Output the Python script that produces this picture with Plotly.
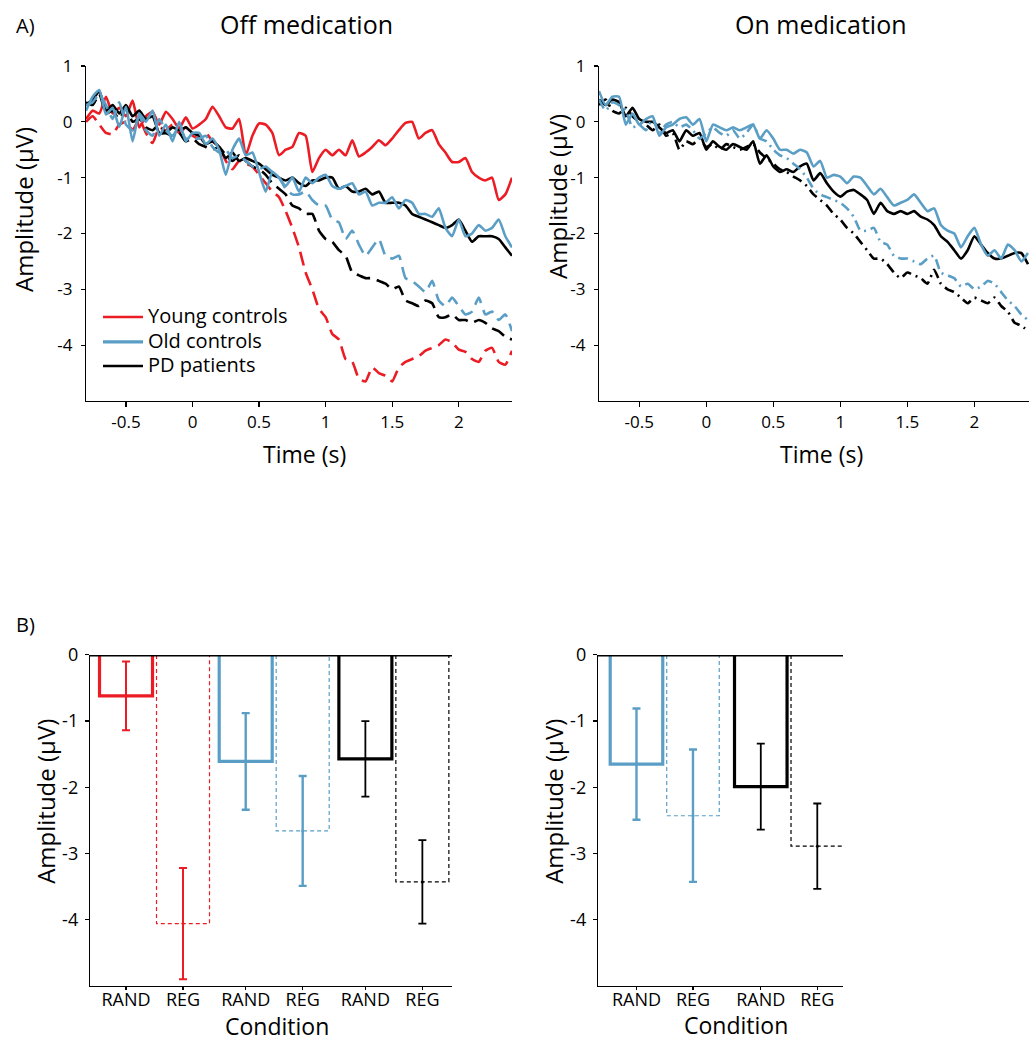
import numpy as np
import plotly.graph_objects as go

FW, FH = 1029, 1042
# measured mapping of the photographed page: rendered_y = VS * page_y + VOFF
VS, VOFF = 0.9877, 13.0

# ---------------- DATA ----------------
time_s = np.round(np.arange(-0.8, 2.4001, 0.05), 2).tolist()

off_young_rand = [0.05, 0.2, 0.15, 0.45, 0.15, 0.25, 0.1, 0.38, -0.1, 0.1,
                  0.18, -0.05, 0.18, 0.05, -0.12, 0.08, -0.12, -0.05, 0.05, 0.27,
                  0.1, -0.1, -0.12, 0.05, -0.6, -0.25, -0.03, -0.05, -0.2, -0.6,
                  -0.5, -0.45, -0.2, -0.25, -0.9, -0.65, -0.5, -0.6, -0.5, -0.6,
                  -0.33, -0.62, -0.55, -0.45, -0.33, -0.42, -0.3, -0.15, -0.02, 0.0,
                  -0.3, -0.2, -0.15, -0.4, -0.55, -0.72, -0.72, -0.65, -0.9, -1.0,
                  -1.05, -1.0, -1.4, -1.3, -1.0]
off_young_reg = [0.0, 0.1, -0.05, -0.2, -0.22, -0.05, 0.0, -0.15, 0.05, -0.2,
                 -0.38, -0.1, -0.15, -0.05, -0.2, -0.1, -0.25, -0.3, -0.2, -0.35,
                 -0.45, -0.7, -0.85, -0.7, -0.75, -0.8, -0.95, -1.1, -1.25, -1.35,
                 -1.6, -1.9, -2.25, -2.7, -3.0, -3.35, -3.5, -3.8, -3.9, -4.25,
                 -4.3, -4.6, -4.65, -4.4, -4.5, -4.55, -4.65, -4.4, -4.3, -4.25,
                 -4.2, -4.1, -4.05, -4.0, -3.9, -3.95, -4.08, -4.12, -4.25, -4.3,
                 -4.1, -4.05, -4.3, -4.35, -4.1]
off_old_rand = [0.2, 0.45, 0.57, 0.13, 0.25, -0.09, 0.27, -0.35, 0.15, 0.0,
                0.2, -0.25, -0.05, -0.35, 0.0, -0.35, -0.2, -0.2, -0.4, -0.3,
                -0.5, -0.95, -0.5, -0.3, -0.6, -0.55, -0.9, -1.25, -0.9, -1.0,
                -1.15, -1.0, -1.25, -1.0, -1.1, -1.0, -0.95, -1.15, -1.2, -1.15,
                -1.1, -1.3, -1.25, -1.5, -1.45, -1.45, -1.35, -1.55, -1.4, -1.45,
                -1.65, -1.65, -1.7, -1.55, -1.9, -2.05, -1.75, -2.05, -2.0, -1.85,
                -1.95, -1.9, -1.75, -2.05, -2.25]
off_old_reg = [0.3, 0.35, 0.5, 0.3, 0.05, 0.35, -0.05, -0.15, 0.1, -0.15,
               -0.25, 0.05, -0.15, -0.25, -0.1, -0.3, -0.3, -0.3, -0.25, -0.45,
               -0.55, -0.5, -0.65, -0.6, -0.7, -0.8, -0.85, -0.8, -0.9, -1.0,
               -1.2, -1.3, -1.3, -1.25, -1.4, -1.5, -1.5, -1.75, -1.8, -2.1,
               -1.95, -2.2, -2.4, -2.25, -2.1, -2.4, -2.45, -2.4, -2.8, -2.85,
               -2.95, -3.05, -2.85, -3.2, -3.3, -3.15, -3.3, -3.45, -3.4, -3.15,
               -3.45, -3.4, -3.55, -3.45, -3.75]
off_pd_rand = [0.3, 0.4, 0.55, 0.2, 0.3, 0.15, 0.3, 0.1, 0.2, 0.05,
               0.1, -0.2, -0.2, -0.1, -0.15, -0.1, -0.2, -0.25, -0.4, -0.35,
               -0.45, -0.65, -0.55, -0.7, -0.65, -0.7, -0.75, -0.85, -0.95, -1.0,
               -1.05, -1.0, -1.1, -1.15, -1.05, -1.05, -1.0, -1.0, -1.2, -1.15,
               -1.25, -1.25, -1.2, -1.3, -1.25, -1.45, -1.45, -1.45, -1.5, -1.65,
               -1.7, -1.75, -1.8, -1.85, -1.9, -1.85, -1.75, -1.95, -2.15, -2.05,
               -2.05, -2.05, -2.1, -2.25, -2.4]
off_pd_reg = [0.35, 0.3, 0.5, 0.15, 0.2, 0.05, 0.25, 0.0, 0.05, -0.1,
              -0.15, -0.05, -0.2, -0.25, -0.2, -0.35, -0.3, -0.4, -0.45, -0.5,
              -0.45, -0.6, -0.7, -0.6, -0.7, -0.8, -0.85, -0.95, -1.1, -1.2,
              -1.3, -1.5, -1.55, -1.65, -1.65, -1.95, -2.1, -2.15, -2.3, -2.4,
              -2.7, -2.75, -2.8, -2.8, -2.85, -2.9, -3.0, -2.95, -3.2, -3.25,
              -3.3, -3.2, -3.25, -3.5, -3.5, -3.45, -3.55, -3.55, -3.6, -3.55,
              -3.6, -3.7, -3.75, -3.85, -3.9]

on_old_rand = [0.55, 0.3, 0.45, 0.45, -0.05, 0.15, -0.05, 0.05, 0.1, -0.25,
               -0.1, -0.05, 0.05, 0.08, -0.05, 0.05, -0.35, -0.05, -0.1, -0.15,
               -0.1, -0.15, -0.1, -0.05, -0.3, -0.15, -0.3, -0.5, -0.5, -0.57,
               -0.5, -0.55, -0.8, -0.7, -1.0, -0.95, -0.98, -1.1, -0.98, -1.0,
               -1.15, -1.3, -1.2, -1.35, -1.5, -1.45, -1.4, -1.3, -1.45, -1.6,
               -1.55, -1.85, -1.95, -2.0, -2.25, -2.05, -1.9, -2.2, -2.4, -2.3,
               -2.45, -2.2, -2.3, -2.5, -2.35]
on_old_reg = [0.4, 0.2, 0.35, 0.3, 0.2, -0.1, -0.05, -0.15, 0.05, -0.2,
              -0.05, 0.0, -0.1, -0.05, -0.15, -0.3, -0.2, -0.1, -0.2, -0.25,
              -0.15, -0.3, -0.2, -0.05, -0.3, -0.35, -0.5, -0.6, -0.65, -0.75,
              -0.85, -1.0, -1.2, -1.3, -1.35, -1.4, -1.45, -1.55, -1.7, -1.95,
              -1.95, -1.9, -2.15, -2.2, -2.4, -2.45, -2.45, -2.5, -2.55, -2.45,
              -2.4, -2.7, -2.75, -2.8, -2.95, -2.9, -3.0, -2.95, -2.85, -2.9,
              -3.05, -3.2, -3.3, -3.45, -3.55]
on_pd_rand = [0.4, 0.3, 0.4, 0.35, 0.1, 0.25, 0.05, 0.0, 0.0, -0.1,
              -0.2, -0.15, -0.35, -0.15, -0.25, -0.2, -0.5, -0.35, -0.45, -0.5,
              -0.4, -0.45, -0.5, -0.35, -0.75, -0.6, -0.8, -0.9, -0.85, -0.9,
              -0.8, -0.75, -1.05, -0.92, -1.1, -1.25, -1.34, -1.25, -1.22, -1.3,
              -1.4, -1.65, -1.45, -1.6, -1.65, -1.6, -1.65, -1.6, -1.7, -1.75,
              -1.85, -2.05, -2.15, -2.3, -2.45, -2.3, -2.05, -2.2, -2.35, -2.45,
              -2.45, -2.4, -2.35, -2.35, -2.55]
on_pd_reg = [0.3, 0.4, 0.2, 0.15, 0.25, 0.1, 0.0, -0.05, -0.15, -0.05,
             -0.25, -0.2, -0.5, -0.35, -0.4, -0.3, -0.45, -0.4, -0.5, -0.4,
             -0.45, -0.5, -0.45, -0.4, -0.55, -0.65, -0.75, -0.85, -0.9, -0.98,
             -1.05, -1.15, -1.3, -1.4, -1.5, -1.65, -1.75, -1.9, -2.0, -2.15,
             -2.3, -2.45, -2.45, -2.55, -2.7, -2.8, -2.7, -2.75, -2.8, -2.9,
             -2.65, -2.9, -3.0, -3.05, -3.15, -3.25, -3.15, -3.2, -3.25, -3.15,
             -3.3, -3.4, -3.6, -3.65, -3.75]

bar_labels_off = ["RAND", "REG", "RAND", "REG", "RAND", "REG"]
bar_means_off = [-0.62, -4.06, -1.61, -2.66, -1.57, -3.43]
bar_sem_off = [0.52, 0.84, 0.73, 0.83, 0.57, 0.63]
bar_labels_on = ["RAND", "REG", "RAND", "REG"]
bar_means_on = [-1.65, -2.43, -1.99, -2.89]
bar_sem_on = [0.84, 1.0, 0.65, 0.645]

legend_names = ["Young controls", "Old controls", "PD patients"]

# ---------------- STYLE ----------------
RED = "#ec1c24"
BLUE = "#5a9ec6"
BLACK = "#000000"
FONT = "Open Sans"

pos_off = [1, 2, 3.1, 4.1, 5.2, 6.2]
col_off = [RED, RED, BLUE, BLUE, BLACK, BLACK]
pos_on = [1, 2, 3.2, 4.2]
col_on = [BLUE, BLUE, BLACK, BLACK]
bar_w = 0.93


def fx(p):  # target pixel x -> paper
    return p / FW


def fy(p):  # target pixel y -> paper (compensating the photo mapping)
    return 1 - ((p - VOFF) / VS) / FH


fig = go.Figure()

LW = 2.6
SM = 0.5
# ---- top-left: off medication ----
for y, c, dash in [(off_young_rand, RED, "solid"), (off_young_reg, RED, "14px,7px"),
                   (off_pd_rand, BLACK, "solid"), (off_pd_reg, BLACK, "14px,7px"),
                   (off_old_rand, BLUE, "solid"), (off_old_reg, BLUE, "14px,7px")]:
    fig.add_trace(go.Scatter(x=time_s, y=y, mode="lines", xaxis="x", yaxis="y",
                             line=dict(color=c, width=LW, dash=dash, shape="spline", smoothing=SM),
                             showlegend=False, hoverinfo="skip"))

# ---- top-right: on medication ----
for y, c, dash in [(on_pd_rand, BLACK, "solid"), (on_pd_reg, BLACK, "10px,5px,2px,5px"),
                   (on_old_rand, BLUE, "solid"), (on_old_reg, BLUE, "10px,5px,2px,5px")]:
    fig.add_trace(go.Scatter(x=time_s, y=y, mode="lines", xaxis="x2", yaxis="y2",
                             line=dict(color=c, width=LW, dash=dash, shape="spline", smoothing=SM),
                             showlegend=False, hoverinfo="skip"))


# ---- bars ----
def add_bars(pos, means, sems, cols, xa, ya, xr):
    for i, (p, m, c) in enumerate(zip(pos, means, cols)):
        reg = (i % 2 == 1)
        fig.add_trace(go.Scatter(
            x=[p - bar_w / 2, p - bar_w / 2, p + bar_w / 2, p + bar_w / 2],
            y=[0, m, m, 0], mode="lines", xaxis=xa, yaxis=ya,
            line=dict(color=c, width=1.2 if reg else 3.2, dash="4px,3px" if reg else "solid"),
            showlegend=False, hoverinfo="skip"))
    for p, m, s, c in zip(pos, means, sems, cols):
        fig.add_trace(go.Scatter(
            x=[p], y=[m], mode="markers", xaxis=xa, yaxis=ya,
            marker=dict(size=3, color=c),
            error_y=dict(type="data", array=[s], color=c,
                         thickness=2.4 if c == BLUE else (2.0 if c == RED else 1.8), width=4),
            showlegend=False, hoverinfo="skip"))
    fig.add_trace(go.Scatter(x=xr, y=[0, 0], mode="lines", xaxis=xa, yaxis=ya,
                             line=dict(color=BLACK, width=3), showlegend=False, hoverinfo="skip"))


xr3 = [0.368, 6.72]
xr4 = [0.319, 4.655]
add_bars(pos_off, bar_means_off, bar_sem_off, col_off, "x3", "y3", xr3)
add_bars(pos_on, bar_means_on, bar_sem_on, col_on, "x4", "y4", xr4)

# ---------------- AXES ----------------
axis_common = dict(showline=True, linecolor=BLACK, linewidth=1.2, ticks="outside",
                   tickwidth=1.2, tickcolor=BLACK, showgrid=False,
                   zeroline=False, fixedrange=True)
t_tickvals = [-0.5, 0, 0.5, 1, 1.5, 2]
t_ticktext = ["-0.5", "0", "0.5", "1", "1.5", "2"]
top_yvals = [1, 0, -1, -2, -3, -4]
top_ytext = ["1", "0", "-1", "-2", "-3", "-4"]
bot_yvals = [0, -1, -2, -3, -4]
bot_ytext = ["0", "-1", "-2", "-3", "-4"]
tickfont_top = dict(family=FONT, size=17, color=BLACK)
tickfont_bot = dict(family=FONT, size=18, color=BLACK)

top_dom_y = [fy(401), fy(66)]
bot_dom_y = [fy(986), fy(655)]

unit_r = (1028 - 599) / 3.2
x2_range = [-0.8, -0.8 + (1029 - 599) / unit_r]

fig.update_layout(
    xaxis=dict(axis_common, domain=[fx(86), fx(512)], range=[-0.8, 2.4], anchor="y",
               tickvals=t_tickvals, ticktext=t_ticktext, tickfont=tickfont_top, ticklen=5),
    yaxis=dict(axis_common, domain=top_dom_y, range=[-5, 1], anchor="x", ticklen=4,
               tickvals=top_yvals, ticktext=top_ytext, tickfont=tickfont_top,
               ticklabelstandoff=5),
    xaxis2=dict(axis_common, domain=[fx(599), 1.0], range=x2_range, anchor="y2",
                tickvals=t_tickvals, ticktext=t_ticktext, tickfont=tickfont_top, ticklen=5),
    yaxis2=dict(axis_common, domain=top_dom_y, range=[-5, 1], anchor="x2", ticklen=4,
                tickvals=top_yvals, ticktext=top_ytext, tickfont=tickfont_top,
                ticklabelstandoff=5),
    xaxis3=dict(axis_common, domain=[fx(90), fx(452)], range=xr3, anchor="y3", ticklen=3,
                tickvals=pos_off, ticktext=bar_labels_off, tickfont=tickfont_bot,
                ticklabelstandoff=-6),
    yaxis3=dict(axis_common, domain=bot_dom_y, range=[-5, 0], anchor="x3", ticklen=4,
                tickvals=bot_yvals, ticktext=bot_ytext, tickfont=tickfont_bot,
                ticklabelstandoff=3),
    xaxis4=dict(axis_common, domain=[fx(598), fx(843)], range=xr4, anchor="y4", ticklen=3,
                tickvals=pos_on, ticktext=bar_labels_on, tickfont=tickfont_bot,
                ticklabelstandoff=-6),
    yaxis4=dict(axis_common, domain=bot_dom_y, range=[-5, 0], anchor="x4", ticklen=4,
                tickvals=bot_yvals, ticktext=bot_ytext, tickfont=tickfont_bot,
                ticklabelstandoff=3),
)

# ---------------- TEXT ----------------
ann = []


def text(s, x, y, size, angle=0, xanchor="center"):
    ann.append(dict(text=s, x=fx(x), y=fy(y), xref="paper", yref="paper",
                    showarrow=False, textangle=angle, xanchor=xanchor, yanchor="middle",
                    font=dict(family=FONT, size=size, color=BLACK)))


text("A)", 14, 26, 20, xanchor="left")
text("B)", 14, 625, 20, xanchor="left")
text("Off medication", 306, 24, 25)
text("On medication", 821, 24, 25)
text("Time (s)", 304, 454, 23)
text("Time (s)", 821, 454, 23)
text("Amplitude (µV)", 24, 210, 24, angle=-90)
text("Amplitude (µV)", 558, 197, 24, angle=-90)
text("Amplitude (µV)", 46, 802, 24, angle=-90)
text("Amplitude (µV)", 554, 802, 24, angle=-90)
text("Condition", 277, 1026, 23)
text("Condition", 736, 1025, 23)

# legend (drawn manually to match the reference's long line samples)
shapes = []
for name, c, yy, lw in zip(legend_names, [RED, BLUE, BLACK], [317, 342, 366], [2.6, 3.2, 2.6]):
    shapes.append(dict(type="line", xref="paper", yref="paper",
                       x0=fx(103), x1=fx(143), y0=fy(yy), y1=fy(yy),
                       line=dict(color=c, width=lw)))
    text(name, 146, yy - 1, 20, xanchor="left")

fig.update_layout(
    annotations=ann, shapes=shapes,
    width=FW, height=FH, margin=dict(l=0, r=0, t=0, b=0),
    paper_bgcolor="white", plot_bgcolor="white",
    font=dict(family=FONT, color=BLACK), showlegend=False,
)

fig.write_html("out.html", config={"displayModeBar": False, "staticPlot": True},
               post_script="document.body.style.margin='0px';")
